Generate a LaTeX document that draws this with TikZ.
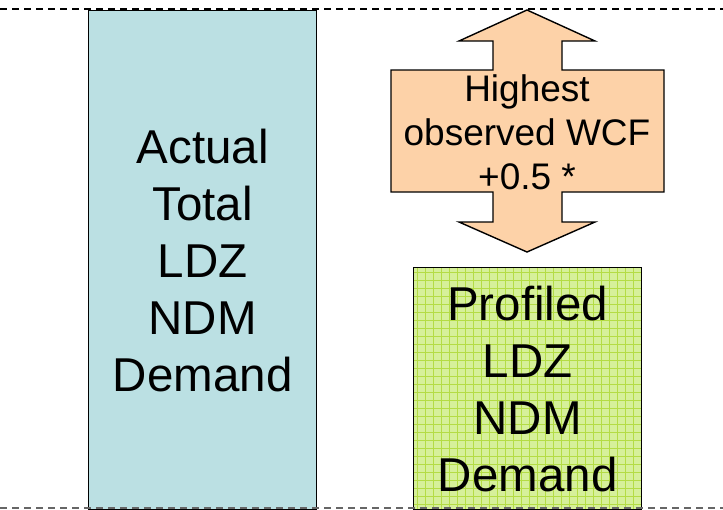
\documentclass[tikz,border=0pt]{standalone}
\usepackage{fontspec}
\setmainfont{Liberation Sans}
\definecolor{actualfill}{HTML}{BBE0E3}
\definecolor{peach}{HTML}{FDD2A8}
\definecolor{limefill}{HTML}{D6F09A}
\definecolor{limeline}{HTML}{B4DC45}
\definecolor{dashgray}{HTML}{666666}
\tikzset{
  boxline/.style={draw=black, line width=1.4pt},
  bigtext/.style={align=center, font=\fontsize{47.5}{57}\selectfont},
  arrowtext/.style={align=center, font=\fontsize{37}{44}\selectfont},
  sepline/.style={line width=1.6pt, dash pattern=on 7pt off 5pt}
}
\begin{document}
\begin{tikzpicture}[x=1pt,y=-1pt]
\useasboundingbox (0,0) rectangle (723,509);
% left box
\node[boxline, fill=actualfill, minimum width=228pt, minimum height=499pt, anchor=north west, inner sep=0pt, bigtext] (actual) at (88,10) {Actual\\Total\\LDZ\\NDM\\Demand};
% green box with grid
\fill[limefill] (413,267) rectangle (641,509);
\foreach \gx in {417,425,...,641} {\draw[limeline, line width=0.8pt] (\gx,267) -- (\gx,509);}
\foreach \gy in {272,280,...,509} {\draw[limeline, line width=0.8pt] (413,\gy) -- (641,\gy);}
\node[boxline, minimum width=228pt, minimum height=242pt, anchor=north west, inner sep=0pt, bigtext] (profiled) at (413,267) {Profiled\\LDZ\\NDM\\Demand};
% double arrow
\draw[boxline, line width=1.4pt, fill=peach]
  (527,10) -- (595,41) -- (562,41) -- (562,70) -- (664,70) -- (664,192) -- (562,192) -- (562,222) -- (595,222) -- (527,252) -- (459,222) -- (493,222) -- (493,192) -- (391,192) -- (391,70) -- (493,70) -- (493,41) -- (459,41) -- cycle;
\node[arrowtext, inner sep=0pt] (wcf) at (527,132) {Highest\\observed WCF\\+0.5 *};
% separator lines
\coordinate (tl) at (0,9);
\coordinate (tr) at (723,9);
\coordinate (bl) at (0,508);
\coordinate (br) at (723,508);
\draw[sepline, black] (tl) -- (tr);
\draw[sepline, dashgray] (bl) -- (br);
\end{tikzpicture}
\end{document}
